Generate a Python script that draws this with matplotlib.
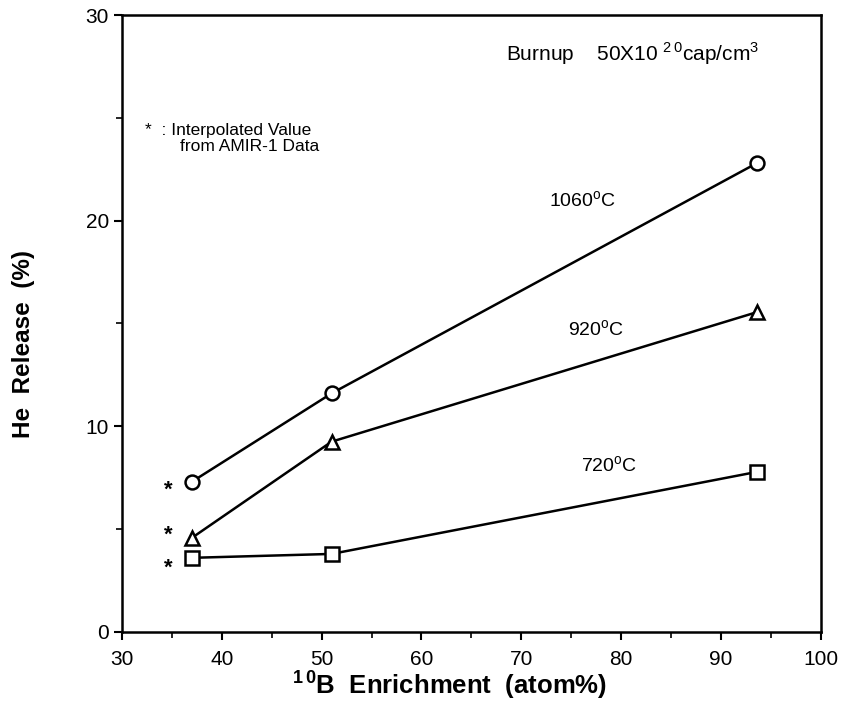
import matplotlib
matplotlib.use("Agg")
import matplotlib.pyplot as plt
from matplotlib.ticker import MultipleLocator

plt.rcParams['font.family'] = ['Liberation Sans', 'DejaVu Sans']

enrichment = [37, 51, 93.6]
rel_1060 = [7.3, 11.6, 22.8]
rel_920 = [4.57, 9.25, 15.55]
rel_720 = [3.6, 3.79, 7.78]

star_x = [34.6, 34.6, 34.6]
star_y = [6.9, 4.7, 3.1]

fig = plt.figure(figsize=(8.41, 7.18), dpi=100)
ax = fig.add_axes([0.145, 0.12, 0.831, 0.859])

kw = dict(color='black', lw=1.8, markerfacecolor='white', markeredgecolor='black', markeredgewidth=1.8)
ax.plot(enrichment, rel_1060, marker='o', markersize=10, **kw)
ax.plot(enrichment, rel_920, marker='^', markersize=10, **kw)
ax.plot(enrichment, rel_720, marker='s', markersize=10, **kw)

for sx, sy in zip(star_x, star_y):
    ax.text(sx, sy, '*', fontsize=16, ha='center', va='center', fontweight='bold')

ax.text(76.1, 20.95, '1060$^{\\mathregular{o}}$C', fontsize=14, ha='center', va='center')
ax.text(77.5, 14.7, '920$^{\\mathregular{o}}$C', fontsize=14, ha='center', va='center')
ax.text(78.8, 8.1, '720$^{\\mathregular{o}}$C', fontsize=14, ha='center', va='center')

ax.text(68.5, 28.1, 'Burnup    50X10 $^{\\mathregular{2\\,0}}$cap/cm$^{\\mathregular{3}}$', fontsize=15, ha='left', va='center')
ax.text(32.3, 24.4, '*  : Interpolated Value', fontsize=12.5, ha='left', va='center')
ax.text(35.8, 23.6, 'from AMIR-1 Data', fontsize=12.5, ha='left', va='center')

ax.set_xlim(30, 100)
ax.set_ylim(0, 30)
ax.xaxis.set_major_locator(MultipleLocator(10))
ax.xaxis.set_minor_locator(MultipleLocator(5))
ax.yaxis.set_major_locator(MultipleLocator(10))
ax.yaxis.set_minor_locator(MultipleLocator(5))
ax.tick_params(which='major', direction='out', length=6, width=1.5, labelsize=15)
ax.tick_params(axis='x', which='major', pad=7)
ax.tick_params(which='minor', direction='out', length=4, width=1.2)
for s in ax.spines.values():
    s.set_linewidth(1.8)

ax.set_xlabel('$^{\\mathregular{1\\,0}}$B  Enrichment  (atom%)', fontsize=18.5, fontweight='bold')
ax.xaxis.set_label_coords(0.469, -0.058)
ax.set_ylabel('He  Release  (%)', fontsize=17.5, fontweight='bold')
ax.yaxis.set_label_coords(-0.125, 0.467)

fig.savefig('out.png', dpi=100)
